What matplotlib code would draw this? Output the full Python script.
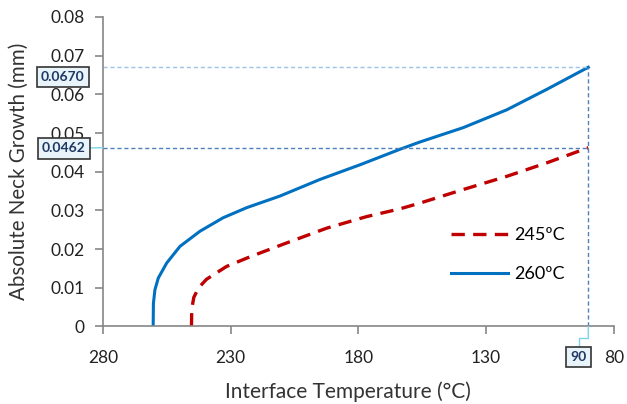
import matplotlib
matplotlib.use("Agg")
import matplotlib.pyplot as plt
import matplotlib.transforms as mtransforms

plt.rcParams['font.family'] = ['Lato', 'DejaVu Sans']

# Data
temp_260 = [260.3, 260.2, 259.6, 258.3, 255.0, 249.8, 242.0, 232.9, 223.7, 210.7, 195.0, 179.3,
            171.5, 163.7, 155.8, 138.9, 121.9, 106.2, 90.0]
growth_260 = [0.0, 0.0060, 0.0095, 0.0125, 0.0164, 0.0207, 0.0246, 0.0281, 0.0307, 0.0337, 0.0380,
              0.0418, 0.0438, 0.0458, 0.0477, 0.0514, 0.0560, 0.0613, 0.0670]

temp_245 = [245.3, 245.2, 244.4, 242.5, 239.4, 231.6, 222.4, 208.0, 192.4, 176.7, 163.7, 155.8,
            138.9, 121.9, 106.2, 90.0]
growth_245 = [0.0, 0.0045, 0.0075, 0.0100, 0.0122, 0.0155, 0.0180, 0.0216, 0.0254, 0.0284, 0.0304,
              0.0319, 0.0354, 0.0388, 0.0423, 0.0462]

x_ticks = [280, 230, 180, 130, 80]
y_ticks = [0, 0.01, 0.02, 0.03, 0.04, 0.05, 0.06, 0.07, 0.08]
y_tick_labels = ["0", "0.01", "0.02", "0.03", "0.04", "0.05", "0.06", "0.07", "0.08"]
end_temp = 90
end_260 = 0.0670
end_245 = 0.0462
labels = ["245ºC", "260ºC"]

fig = plt.figure(figsize=(6.27, 4.04), dpi=100)
ax = fig.add_axes([0.164, 0.192, 0.815, 0.766])

gray = "#868686"
ax.plot(temp_245, growth_245, color="#c00000", lw=2.4, ls=(0, (4, 2.5)), label=labels[0])
ax.plot(temp_260, growth_260, color="#0070c0", lw=2.2, label=labels[1])

# guide lines
ax.plot([280, end_temp], [end_260, end_260], color="#9dc3e6", lw=1, ls=(0, (3, 2)))
ax.plot([280, end_temp], [end_245, end_245], color="#4f81bd", lw=1, ls=(0, (3, 2)))
ax.plot([end_temp, end_temp], [0, end_260], color="#4f81bd", lw=1, ls=(0, (3, 2)))

ax.set_xlim(280, 80)
ax.set_ylim(0, 0.08)
ax.set_xticks(x_ticks)
ax.set_xticklabels([str(t) for t in x_ticks], fontsize=12.5)
ax.set_yticks(y_ticks)
ax.set_yticklabels(y_tick_labels, fontsize=12.5)
for s in ["top", "right"]:
    ax.spines[s].set_visible(False)
for s in ["left", "bottom"]:
    ax.spines[s].set_color(gray)
    ax.spines[s].set_linewidth(1.2)
ax.tick_params(axis="both", colors=gray, labelcolor="#222222", length=6, width=1.2,
               direction="out")
ax.tick_params(axis="x", pad=11)
ax.tick_params(axis="y", pad=7)

ax.set_xlabel("Interface Temperature (°C)", fontsize=15, color="#333333", va="center")
ax.xaxis.set_label_coords(0.48, -0.212)
ax.set_ylabel("Absolute Neck Growth (mm)", fontsize=14.8, color="#333333", va="center")
ax.yaxis.set_label_coords(-0.165, 0.502)

box = dict(boxstyle="square,pad=0.3", fc="#e8f4fa", ec="#333333", lw=1.2)
cyan = "#7fd3e6"
# value callouts
ax.annotate("0.0670", xy=(0, end_260), xycoords=("axes fraction", "data"),
            xytext=(-29, -7), textcoords="offset points", fontsize=10, fontweight="bold",
            color="#1f3864", ha="center", va="center", bbox=box, annotation_clip=False)
ax.annotate("0.0462", xy=(0, end_245), xycoords=("axes fraction", "data"),
            xytext=(-28, -0.5), textcoords="offset points", fontsize=10, fontweight="bold",
            color="#1f3864", ha="center", va="center", bbox=box, annotation_clip=False,
            arrowprops=dict(arrowstyle="-", color=cyan, lw=1, shrinkA=0, shrinkB=0))

xt = ax.get_xaxis_transform()
below = mtransforms.offset_copy(xt, fig=fig, x=0, y=-8, units="points")
ax.annotate("", xy=(end_temp, 0), xycoords=xt, xytext=(end_temp, 0), textcoords=below,
            arrowprops=dict(arrowstyle="-", color=cyan, lw=1, shrinkA=0, shrinkB=0),
            annotation_clip=False)
ax.annotate("90", xy=(end_temp, 0), xycoords=below,
            xytext=(-7, -14), textcoords="offset points", fontsize=10, fontweight="bold",
            color="#1f3864", ha="center", va="center", bbox=box, annotation_clip=False,
            arrowprops=dict(arrowstyle="-", color=cyan, lw=1, shrinkA=0, shrinkB=0,
                            connectionstyle="angle,angleA=90,angleB=0,rad=0"))

leg = ax.legend(loc="lower right", bbox_to_anchor=(0.935, 0.09), frameon=False, fontsize=13,
                handlelength=3.2, labelspacing=1.3, handletextpad=0.3)

fig.savefig("out.png", dpi=100)
